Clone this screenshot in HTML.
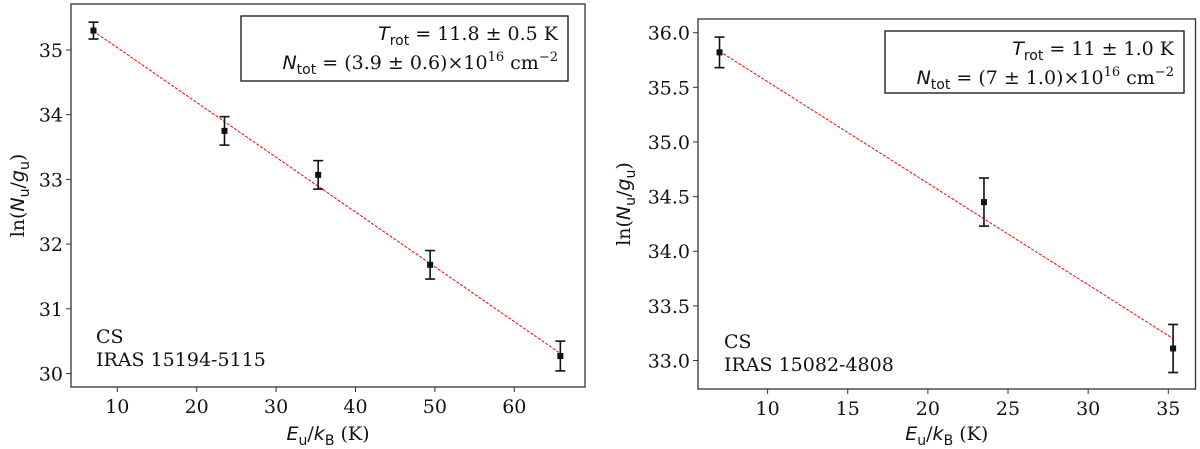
<!DOCTYPE html>
<html><head><meta charset="utf-8"><style>
html,body{margin:0;padding:0;background:#fff;}
svg{display:block;font-family:"DejaVu Serif","Liberation Serif",serif;}
.tk{font-size:19px;fill:#111;}
.it{font-family:"DejaVu Sans","Liberation Sans",sans-serif;font-style:italic;}
</style></head><body>
<svg id="chart" width="1200" height="449" viewBox="0 0 1200 449" xmlns="http://www.w3.org/2000/svg"></svg>
<script>
// Left panel data (IRAS 15194-5115)
const leftEnergies = [7, 23.5, 35.3, 49.4, 65.8];
const leftValues = [35.30, 33.75, 33.07, 31.68, 30.27];
const leftErrors = [0.13, 0.22, 0.22, 0.22, 0.23];
const leftFit = [[7, 35.29], [65.8, 30.31]];
const leftXTicks = [10, 20, 30, 40, 50, 60];
const leftYTicks = [30, 31, 32, 33, 34, 35];
// Right panel data (IRAS 15082-4808)
const rightEnergies = [7, 23.5, 35.3];
const rightValues = [35.82, 34.45, 33.11];
const rightErrors = [0.14, 0.22, 0.22];
const rightFit = [[7, 35.83], [35.3, 33.20]];
const rightXTicks = [10, 15, 20, 25, 30, 35];
const rightYTicks = ["33.0", "33.5", "34.0", "34.5", "35.0", "35.5", "36.0"];

const NS = "http://www.w3.org/2000/svg";
const svg = document.getElementById("chart");
function mk(tag, attrs, parent, text) {
  const e = document.createElementNS(NS, tag);
  for (const k in attrs) e.setAttribute(k, attrs[k]);
  if (text !== undefined) e.textContent = text;
  (parent || svg).appendChild(e);
  return e;
}

function panel(cfg) {
  const g = mk("g", {});
  
  
  const sx = v => cfg.px0 + (v - cfg.x0) / (cfg.x1 - cfg.x0) * (cfg.px1 - cfg.px0);
  const sy = v => cfg.py0 + (v - cfg.y0) / (cfg.y1 - cfg.y0) * (cfg.py1 - cfg.py0);
  // axes frame
  const frame = mk("rect", {x: cfg.L, y: cfg.T, width: cfg.R - cfg.L, height: cfg.B - cfg.T, fill: "none", stroke: "#333", "stroke-width": 1.3}, g);
  
  
  // x ticks
  cfg.xTicks.forEach(t => {
    const x = sx(+t);
    mk("line", {x1: x, x2: x, y1: cfg.B, y2: cfg.B + 5, stroke: "#333", "stroke-width": 1}, g);
    const lb = mk("text", {x: x, y: cfg.B + 26, "text-anchor": "middle", class: "tk"}, g, String(t));
    
    
  });
  // y ticks
  cfg.yTicks.forEach(t => {
    const y = sy(+t);
    mk("line", {x1: cfg.L - 5, x2: cfg.L, y1: y, y2: y, stroke: "#333", "stroke-width": 1}, g);
    const lb = mk("text", {x: cfg.L - 8, y: y + 7, "text-anchor": "end", class: "tk"}, g, String(t));
    
    
  });
  // fit line
  const fit = mk("line", {x1: sx(cfg.fit[0][0]), y1: sy(cfg.fit[0][1]), x2: sx(cfg.fit[1][0]), y2: sy(cfg.fit[1][1]), stroke: "#f00", "stroke-width": 1, "stroke-dasharray": "3,1.5"}, g);
  
  
  // points
  cfg.xs.forEach((xv, i) => {
    const x = sx(xv), y = sy(cfg.ys[i]);
    const yt = sy(cfg.ys[i] + cfg.es[i]), yb = sy(cfg.ys[i] - cfg.es[i]);
    const eg = mk("g", {stroke: "#111", "stroke-width": 1.6}, g);
    
    
    mk("line", {x1: x, x2: x, y1: yt, y2: yb}, eg);
    mk("line", {x1: x - 5, x2: x + 5, y1: yt, y2: yt}, eg);
    mk("line", {x1: x - 5, x2: x + 5, y1: yb, y2: yb}, eg);
    const p = mk("rect", {x: x - 3, y: y - 3, width: 6, height: 6, fill: "#111"}, g);
    
    
  });
  // result box
  const bx = mk("rect", {x: cfg.box[0], y: cfg.box[1], width: cfg.box[2] - cfg.box[0], height: cfg.box[3] - cfg.box[1], fill: "#fff", stroke: "#111", "stroke-width": 1.3}, g);
  
  
  const t1 = mk("text", {x: cfg.box[2] - 10, y: cfg.box[1] + 24, "text-anchor": "end", class: "tk"}, g);
  
  
  t1.innerHTML = '<tspan class="it">T</tspan><tspan font-size="14" dy="5" font-family="DejaVu Sans">rot</tspan><tspan dy="-5"> = ' + cfg.tText + '</tspan>';
  const t2 = mk("text", {x: cfg.box[2] - 10, y: cfg.box[1] + 53, "text-anchor": "end", class: "tk"}, g);
  
  
  t2.innerHTML = '<tspan class="it">N</tspan><tspan font-size="14" dy="5" font-family="DejaVu Sans">tot</tspan><tspan dy="-5"> = ' + cfg.nText + '×10</tspan><tspan font-size="13" dy="-8">16</tspan><tspan dy="8"> cm</tspan><tspan font-size="13" dy="-8">−2</tspan>';
  // annotation
  const a1 = mk("text", {x: cfg.ann[0], y: cfg.ann[1], class: "tk"}, g, "CS");
  
  
  const a2 = mk("text", {x: cfg.ann[0], y: cfg.ann[1] + 23, class: "tk"}, g, cfg.source);
  
  
  // axis titles
  const xt = mk("text", {x: (cfg.L + cfg.R) / 2, y: 440, "text-anchor": "middle", class: "tk"}, g);
  
  
  xt.innerHTML = '<tspan class="it">E</tspan><tspan font-size="14" dy="5" font-family="DejaVu Sans">u</tspan><tspan dy="-5">/</tspan><tspan class="it">k</tspan><tspan font-size="14" dy="5" font-family="DejaVu Sans">B</tspan><tspan dy="-5"> (K)</tspan>';
  const yt = mk("text", {x: 0, y: 0, "text-anchor": "middle", class: "tk", transform: "translate(" + cfg.ytx + "," + ((cfg.T + cfg.B) / 2) + ") rotate(-90)"}, g);
  
  
  yt.innerHTML = 'ln(<tspan class="it">N</tspan><tspan font-size="14" dy="5" font-family="DejaVu Sans">u</tspan><tspan dy="-5">/</tspan><tspan class="it">g</tspan><tspan font-size="14" dy="5" font-family="DejaVu Sans">u</tspan><tspan dy="-5">)</tspan>';
}

panel({name: "left-panel", L: 71, R: 585, T: 4, B: 387,
  x0: 10, x1: 20, px0: 117.3, px1: 196.7, y0: 30, y1: 35, py0: 373.5, py1: 50,
  xs: leftEnergies, ys: leftValues, es: leftErrors, fit: leftFit,
  xTicks: leftXTicks, yTicks: leftYTicks, box: [241, 16, 568, 81],
  tText: "11.8 ± 0.5 K", nText: "(3.9 ± 0.6)", ann: [96, 343], source: "IRAS 15194-5115", ytx: 24});
panel({name: "right-panel", L: 698, R: 1195.5, T: 19, B: 389,
  x0: 10, x1: 35, px0: 767.6, px1: 1168.3, y0: 33, y1: 36, py0: 360.5, py1: 32.7,
  xs: rightEnergies, ys: rightValues, es: rightErrors, fit: rightFit,
  xTicks: rightXTicks, yTicks: rightYTicks, box: [885, 31, 1184, 93],
  tText: "11 ± 1.0 K", nText: "(7 ± 1.0)", ann: [724, 348], source: "IRAS 15082-4808", ytx: 630});
</script>
</body></html>
